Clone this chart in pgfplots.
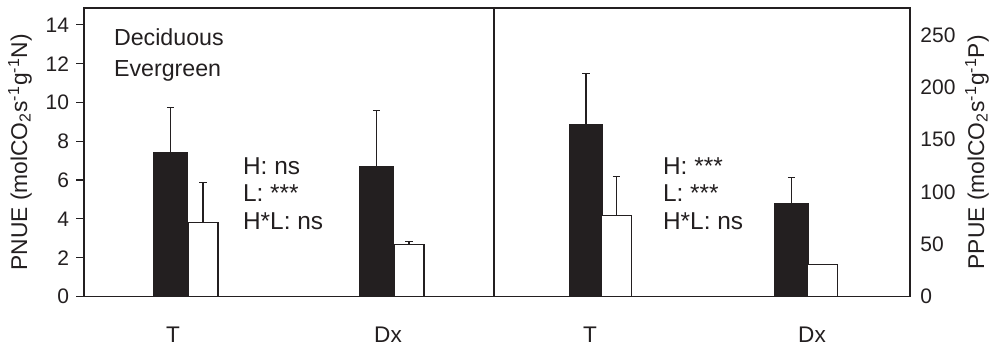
\documentclass[border=0pt]{standalone}
\usepackage{fontspec}
\setmainfont{Liberation Sans}
\usepackage{pgfplots}
\pgfplotsset{compat=1.18}
\definecolor{ink}{RGB}{35,31,32}
\tikzset{annot/.style={anchor=base west, inner sep=0pt, text=ink, font=\fontsize{12.2}{14}\selectfont}}
\pgfplotstableread{
x    y     err
86.5 7.44  2.30
292.5 6.68 2.89
}\leftdec
\pgfplotstableread{
x    y     err
119  3.83  2.06
325  2.66  0.17
}\leftevg
\pgfplotstableread{
x    y     err
92   164   49
297.5 88.5 25.2
}\rightdec
\pgfplotstableread{
x    y     err
122.5 77.4 37.2
328.5 30.9 0
}\rightevg
\begin{document}
\begin{tikzpicture}
\pgfplotsset{
  panel/.style={
    scale only axis, height=144.25pt,
    ymin=0,
    axis line style={line width=0.6pt, color=ink},
    xtick style={draw=none},
    /pgf/number format/assume math mode=true,
    font=\fontsize{11}{13}\selectfont,
    yticklabel style={font=\fontsize{10.5}{12}\selectfont, text=ink},
    xticklabel style={font=\fontsize{11.3}{13}\selectfont, yshift=-11.5pt, text=ink},
    clip=false,
  },
  errstyle/.style={
    error bars/y dir=plus, error bars/y explicit,
    error bars/error bar style={ink, line width=0.6pt},
    error bars/error mark options={rotate=90, mark size=1.8pt, ink, line width=0.6pt}},
  decbar/.style={ybar, bar width=33, bar shift=0pt, fill=ink, draw=ink, line width=0.6pt, errstyle},
  evgbar/.style={ybar, bar width=30, bar shift=0pt, fill=white, draw=ink, line width=0.6pt, errstyle},
}
\begin{axis}[panel, width=205pt,
  xmin=0, xmax=410, ymax=14.87,
  xtick={89,304}, xticklabels={T,Dx},
  xticklabel style={yshift=4pt},
  ytick={0,2,...,14}, ytick pos=left, tick align=outside, major tick length=4pt,
  ytick style={ink, line width=0.6pt},
  ylabel={PNUE (molCO\textsubscript{2}s\textsuperscript{-1}g\textsuperscript{-1}N)},
  every axis y label/.style={at={(axis description cs:-0.156,0.5)}, rotate=90, anchor=center, font=\fontsize{11.4}{13}\selectfont, text=ink},
  legend style={draw=none, fill=none, at={(axis description cs:0.048,0.958)}, anchor=north west,
    font=\fontsize{11.6}{13}\selectfont, row sep=2pt, text=ink},
  legend cell align=left,
]
\addlegendimage{empty legend}\addlegendentry{Deciduous}
\addlegendimage{empty legend}\addlegendentry{Evergreen}
\addplot[forget plot, decbar] table[x=x, y=y, y error=err] {\leftdec};
\addplot[forget plot, evgbar] table[x=x, y=y, y error=err] {\leftevg};
\node[annot] at (axis cs:158.7,6.27) {H: ns};
\node[annot] at (axis cs:158.7,4.90) {L: ***};
\node[annot] at (axis cs:158.7,3.46) {H*L: ns};
\end{axis}
\begin{axis}[panel, width=208pt, at={(205pt,0)}, anchor=south west,
  xmin=0, xmax=416, ymax=275.6,
  xtick={96,318}, xticklabels={T,Dx},
  ytick={0,50,...,250}, yticklabel pos=right, ytick style={draw=none},
  yticklabel style={xshift=1.7pt},
  ylabel={PPUE (molCO\textsubscript{2}s\textsuperscript{-1}g\textsuperscript{-1}P)},
  every axis y label/.style={at={(axis description cs:1.161,0.5)}, rotate=90, anchor=center, font=\fontsize{11.4}{13}\selectfont, text=ink},
]
\addplot[decbar] table[x=x, y=y, y error=err] {\rightdec};
\addplot[evgbar] table[x=x, y=y, y error=err] {\rightevg};
\node[annot] at (axis cs:168.7,116.2) {H: ***};
\node[annot] at (axis cs:168.7,90.7) {L: ***};
\node[annot] at (axis cs:168.7,64.0) {H*L: ns};
\end{axis}
\path (-42pt,-31pt) rectangle (458pt,145pt);
\end{tikzpicture}
\end{document}
